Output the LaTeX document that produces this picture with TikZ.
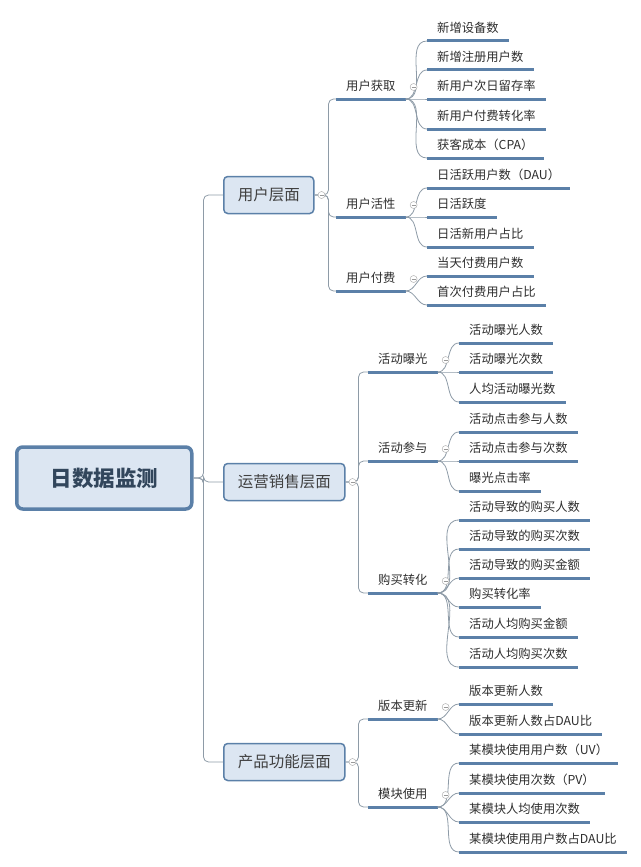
\documentclass[tikz,border=0pt]{standalone}
\usepackage{fontspec}
\setmainfont{Noto Sans CJK SC}
\usepackage{tikz}

\definecolor{boxfill}{HTML}{DCE6F2}
\definecolor{boxline}{HTML}{5B80A8}
\definecolor{linkgray}{HTML}{8E9BA7}
\definecolor{txt}{HTML}{2E2E2E}

\begin{document}
\begin{tikzpicture}[x=1pt, y=-1pt,
	every node/.style={font=\fontsize{12.3}{12}\selectfont, text=txt},
	root/.style={draw=boxline, line width=3.5pt, fill=boxfill, rounded corners=6pt, anchor=west, minimum width=175pt, minimum height=62pt, font=\fontsize{21.5}{22}\selectfont\bfseries, text=boxline!55!black},
	topic/.style={draw=boxline, line width=1.5pt, fill=boxfill, rounded corners=4pt, anchor=west, minimum height=37pt, inner xsep=14pt, font=\fontsize{15.5}{16}\selectfont, text=black!75},
	uline/.style={draw=boxline, line width=3pt},
	item/.style={anchor=south west, inner xsep=10pt, inner ysep=5.5pt, text height=9pt, text depth=3pt, append after command={(\tikzlastnode.south west) edge[uline] (\tikzlastnode.south east)}},
	link/.style={draw=linkgray, line width=0.8pt, rounded corners=5pt},
	fold/.style={circle, draw=black!30, fill=white, line width=0.5pt, minimum size=7pt, inner sep=0pt, path picture={\draw[black!40, line width=0.5pt] ([xshift=-2pt]path picture bounding box.center) -- ([xshift=2pt]path picture bounding box.center);}}]
	\useasboundingbox (0,0) rectangle (640,867);

	\node[root] (root) at (15,478) {日数据监测};
	\node[topic] (user) at (223,195) {用户层面};
	\node[topic] (ops) at (223,482) {运营销售层面};
	\node[topic] (prod) at (223,762) {产品功能层面};

	\node[item] (ua) at (336,99) {用户获取};
	\node[item] (ub) at (336,217) {用户活性};
	\node[item] (uc) at (336,291) {用户付费};
	\node[item] (oa) at (368,372) {活动曝光};
	\node[item] (ob) at (368,461) {活动参与};
	\node[item] (oc) at (368,593) {购买转化};
	\node[item] (pa) at (368,719) {版本更新};
	\node[item] (pb) at (368,807) {模块使用};

	\foreach \n/\y/\t in {ua1/41/新增设备数, ua2/70/新增注册用户数, ua3/99/新用户次日留存率, ua4/129/新用户付费转化率, ua5/158/获客成本（CPA）, ub1/188/日活跃用户数（DAU）, ub2/217/日活跃度, ub3/247/日活新用户占比, uc1/276/当天付费用户数, uc2/305/首次付费用户占比}
		\node[item] (\n) at (427,\y) {\t};
	\foreach \n/\y/\t in {oa1/343/活动曝光人数, oa2/372/活动曝光次数, oa3/402/人均活动曝光数, ob1/432/活动点击参与人数, ob2/461/活动点击参与次数, ob3/491/曝光点击率, oc1/520/活动导致的购买人数, oc2/549/活动导致的购买次数, oc3/578/活动导致的购买金额, oc4/607/购买转化率, oc5/637/活动人均购买金额, oc6/667/活动人均购买次数, pa1/704/版本更新人数, pa2/734/版本更新人数占DAU比, pb1/763/某模块使用用户数（UV）, pb2/793/某模块使用次数（PV）, pb3/822/某模块人均使用次数, pb4/852/某模块使用用户数占DAU比}
		\node[item] (\n) at (459,\y) {\t};

	\foreach \t in {user,ops,prod}
		\draw[link] (root.east) -- ++(10,0) |- (\t.west);
	\foreach \c in {ua,ub,uc}
		\draw[link] (user.east) -- ++(14,0) |- (\c.south west);
	\foreach \c in {oa,ob,oc}
		\draw[link] (ops.east) -- ++(13,0) |- (\c.south west);
	\foreach \c in {pa,pb}
		\draw[link] (prod.east) -- ++(13,0) |- (\c.south west);

	\foreach \p/\k in {ua/5, ub/3, uc/2, oa/3, ob/3, oc/6, pa/2, pb/4}
		\foreach \i in {1,...,\k}
			\draw[link] (\p.south east) to[out=0, in=180] (\p\i.south west);

	\foreach \t in {user,ops,prod}
		\node[fold] at ([xshift=7pt]\t.east) {};
	\foreach \p in {ua,ub,uc,oa,ob,oc,pa,pb}
		\node[fold] at ([shift={(8,-12)}]\p.south east) {};
\end{tikzpicture}
\end{document}
